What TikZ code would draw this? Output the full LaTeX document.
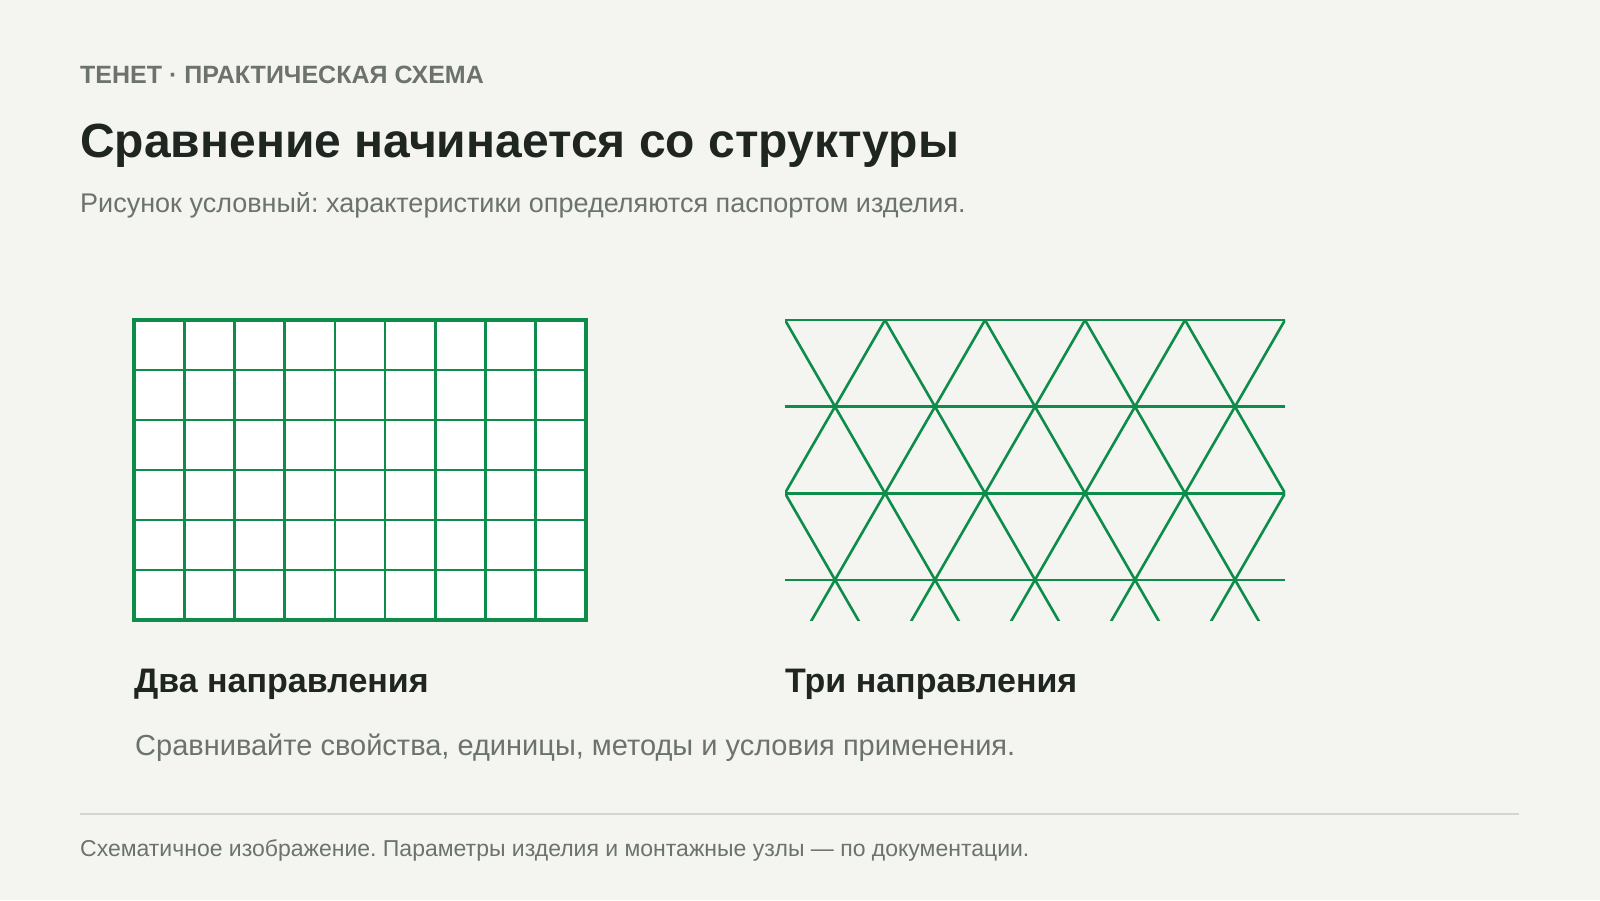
\documentclass[tikz,border=0pt]{standalone}
\usepackage{fontspec}
\setmainfont{Liberation Sans}
\usepackage{xcolor}
\usetikzlibrary{positioning}
\frenchspacing

\definecolor{paper}{HTML}{F4F5F0}
\definecolor{meshgreen}{HTML}{0E8C4A}
\definecolor{inkdark}{HTML}{1F2621}
\definecolor{inkgray}{HTML}{6B736C}
\definecolor{rulegray}{HTML}{D3D6CF}

\tikzset{
  txt/.style={inner sep=0pt, anchor=base west},
  kicker/.style={txt, text=inkgray, font=\fontsize{25}{30}\selectfont\bfseries},
  headline/.style={txt, text=inkdark, font=\fontsize{48}{56}\selectfont\bfseries},
  lead/.style={txt, text=inkgray, font=\fontsize{27}{32}\selectfont},
  caption/.style={txt, text=inkdark, font=\fontsize{34}{40}\selectfont\bfseries},
  note/.style={txt, text=inkgray, font=\fontsize{29}{34}\selectfont},
  footnote/.style={txt, text=inkgray, font=\fontsize{23}{28}\selectfont},
  mesh/.style={draw=meshgreen, line width=2.6pt},
}

\begin{document}
\begin{tikzpicture}[x=1pt, y=-1pt]
    % Page
    \fill[paper] (0,0) rectangle (1600,900);
    \useasboundingbox (0,0) rectangle (1600,900);

    % Heading
    \node[kicker] (kicker) at (80,83) {ТЕНЕТ · ПРАКТИЧЕСКАЯ СХЕМА};
    \node[headline] (title) at (80,157) {Сравнение начинается со структуры};
    \node[lead] (lead) at (80,212) {Рисунок условный: характеристики определяются паспортом изделия.};

    % Two directions
    \begin{scope}[xshift=134pt]
        \fill[white] (0,320) rectangle (452,620);
        \foreach \c in {1,...,8} \draw[mesh] (\c*452/9,320) -- (\c*452/9,620);
        \foreach \r in {1,...,5} \draw[mesh] (0,320+\r*50) -- (452,320+\r*50);
        \draw[meshgreen, line width=3.5pt] (0,320) rectangle (452,620);
        \node[caption] (twodir) at (0,692) {Два направления};
    \end{scope}

    % Three directions
    \begin{scope}[xshift=785pt]
        \foreach \r in {0,...,3} \draw[mesh] (0,320+\r*86.6) -- (500,320+\r*86.6);
        \begin{scope}
            \clip (0,318) rectangle (500,620);
            \foreach \i in {-4,...,8} {
                \draw[mesh] (\i*100,320) -- (\i*100+200,666.4);
                \draw[mesh] (\i*100,320) -- (\i*100-200,666.4);
            }
        \end{scope}
        \node[caption] (threedir) at (0,692) {Три направления};
    \end{scope}

    \node[note] (hint) at (135,755) {Сравнивайте свойства, единицы, методы и условия применения.};

    % Footer
    \coordinate (ruleL) at (80,814);
    \coordinate (ruleR) at (1519,814);
    \draw[rulegray, line width=1.5pt] (ruleL) -- (ruleR);
    \node[footnote] (foot) at (80,856) {Схематичное изображение. Параметры изделия и монтажные узлы — по документации.};
\end{tikzpicture}
\end{document}
